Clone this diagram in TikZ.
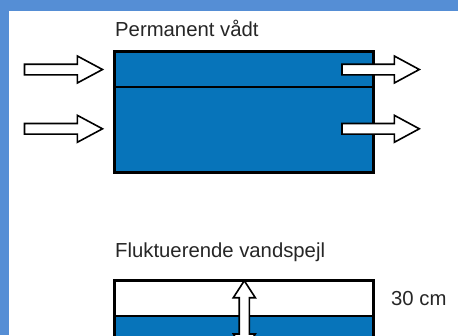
\documentclass[tikz,border=0pt]{standalone}
\usepackage{fontspec}
\setmainfont{Liberation Sans}
\definecolor{frameblue}{RGB}{85,142,213}
\definecolor{water}{RGB}{7,116,186}
\begin{document}
\begin{tikzpicture}[x=1pt,y=-1pt,
  tank/.style={draw=black,line width=2.6pt},
  divider/.style={draw=black,line width=2.2pt},
  fatarrow/.style={draw=black,fill=white,line width=1.6pt,line join=miter},
  lbl/.style={anchor=base west,inner sep=0pt,font=\fontsize{20.3}{22}\selectfont,text=black!85}]
\useasboundingbox (0,0) rectangle (458,335);
\clip (0,0) rectangle (458,335);
\fill[frameblue] (0,0) rectangle (458,335);
\fill[white] (8.5,10.5) rectangle (460,340);
% top tank
\node[lbl] (t1) at (115,36.7) {Permanent vådt};
\fill[water] (114.3,51.7) rectangle (373.3,172.3);
\draw[divider] (114.3,86.7) -- (373.3,86.7);
\draw[tank] (114.3,51.7) rectangle (373.3,172.3);
% arrows (top)
\foreach \yy in {69.5,128.8}{
  \draw[fatarrow] (24.5,\yy-5.3) -- (77.3,\yy-5.3) -- (77.3,\yy-13.5) -- (102.5,\yy)
     -- (77.3,\yy+13.5) -- (77.3,\yy+5.3) -- (24.5,\yy+5.3) -- cycle;
  \draw[fatarrow] (342,\yy-5.3) -- (394.3,\yy-5.3) -- (394.3,\yy-13.5) -- (419.3,\yy)
     -- (394.3,\yy+13.5) -- (394.3,\yy+5.3) -- (342,\yy+5.3) -- cycle;
}
% bottom tank
\node[lbl] (t2) at (115,257.7) {Fluktuerende vandspejl};
\fill[water] (114.3,315.7) rectangle (373.3,345);
\draw[divider] (114.3,315.7) -- (373.3,315.7);
\draw[tank] (114.3,345) -- (114.3,280.7) -- (373.3,280.7) -- (373.3,345);
\draw[fatarrow] (244.3,280.7) -- (255.3,297.7) -- (249.4,297.7) -- (249.4,334)
   -- (255.3,334) -- (244.3,351) -- (233.3,334) -- (239.2,334) -- (239.2,297.7)
   -- (233.3,297.7) -- cycle;
\node[lbl] (t3) at (391,305) {30 cm};
\end{tikzpicture}
\end{document}
